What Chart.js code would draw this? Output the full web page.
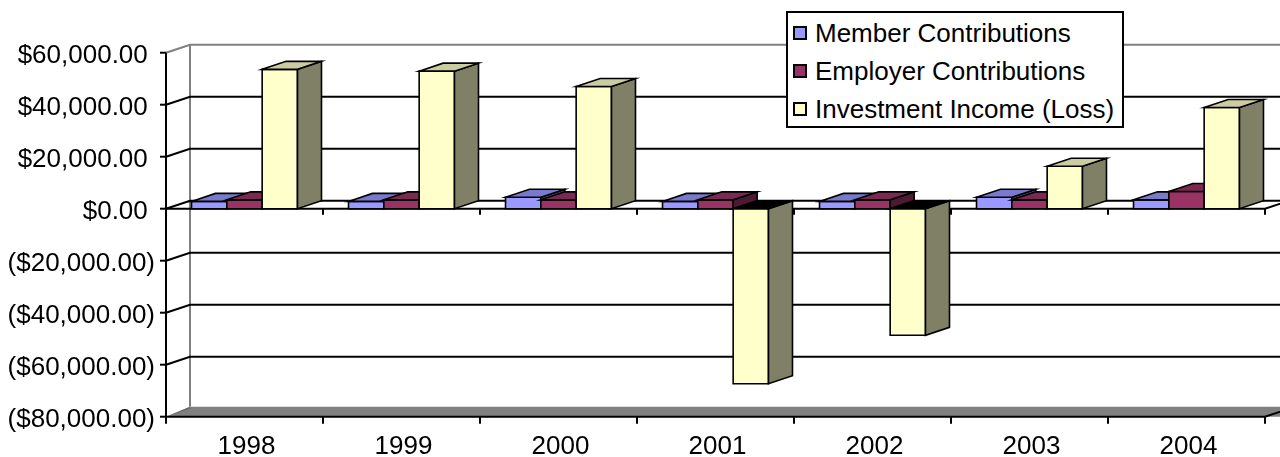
<!DOCTYPE html>
<html><head><meta charset="utf-8">
<script src="https://cdn.jsdelivr.net/npm/chart.js@4.4.1/dist/chart.umd.min.js"></script>
<style>
html,body{margin:0;padding:0;background:#fff;}
#wrap{position:relative;width:1280px;height:457px;overflow:hidden;}
#legend{position:absolute;left:786px;top:11px;width:334px;height:113px;border:2px solid #000;background:#fff;
  font-family:"Liberation Sans",Arial,sans-serif;font-size:26px;color:#000;box-sizing:content-box;}
.row{display:flex;align-items:center;height:38px;white-space:nowrap;}
.row:first-child{margin-top:1px;}
.mk{width:10px;height:10px;border:2px solid #000;margin-left:5px;margin-right:8px;flex:none;}
</style></head>
<body>
<div id="wrap"><canvas id="chart" width="1280" height="457"></canvas><div id="legend"></div></div>
<script>
const categories = ['1998', '1999', '2000', '2001', '2002', '2003', '2004'];
const seriesNames = ['Member Contributions', 'Employer Contributions', 'Investment Income (Loss)'];
const memberContributions = [2800, 2800, 4400, 2800, 2800, 4400, 3400];
const employerContributions = [3400, 3400, 3400, 3400, 3400, 3400, 6600];
const investmentIncome = [53600, 52900, 47000, -67300, -48700, 16300, 38900];
const yMin = -80000, yMax = 60000, yStep = 20000;

const seriesColors = ['#9999FF', '#993366', '#FFFFCC'];
const DX = 24, DY = -8;

function shade(hex, f) {
  const n = parseInt(hex.slice(1), 16);
  const r = Math.round(((n >> 16) & 255) * f), g = Math.round(((n >> 8) & 255) * f), b = Math.round((n & 255) * f);
  return 'rgb(' + r + ',' + g + ',' + b + ')';
}
function fmtMoney(v) {
  const s = Math.abs(v).toLocaleString('en-US', {minimumFractionDigits: 2, maximumFractionDigits: 2});
  return v < 0 ? '($' + s + ')' : '$' + s + ' ';
}

function poly(ctx, pts, fill, stroke, lw) {
  ctx.beginPath();
  ctx.moveTo(pts[0][0], pts[0][1]);
  for (let i = 1; i < pts.length; i++) ctx.lineTo(pts[i][0], pts[i][1]);
  if (fill) { ctx.closePath(); ctx.fillStyle = fill; ctx.fill(); }
  if (stroke) { ctx.strokeStyle = stroke; ctx.lineWidth = lw || 2; ctx.stroke(); }
}

const threeD = {
  id: 'threeD',
  beforeDatasetsDraw(chart) {
    const {ctx, chartArea: a, scales: {x, y}} = chart;
    const W = chart.width;
    const n = categories.length;
    ctx.save();
    ctx.lineJoin = 'miter';
    const yb = a.bottom;
    // floor
    poly(ctx, [[a.left, yb], [a.left + DX, yb + DY - 2], [a.right + DX + 40, yb + DY - 2], [a.right + 40, yb]], '#808080');
    poly(ctx, [[a.left, yb], [a.left + DX, yb + DY - 2], [a.left + DX, yb + DY]], '#6a6a6a');
    // back wall left edge
    poly(ctx, [[a.left + DX, a.top + DY], [a.left + DX, yb + DY - 2]], null, '#808080', 2);
    // gridlines (side wall + back wall)
    for (let v = yMin + yStep; v <= yMax; v += yStep) {
      const py = y.getPixelForValue(v);
      poly(ctx, [[a.left, py], [a.left + DX, py + DY], [W, py + DY]], null, v === yMax ? '#808080' : '#000', 2);
    }
    // front value axis
    poly(ctx, [[a.left, a.top], [a.left, yb]], null, '#000', 2);
    for (let v = yMin; v <= yMax; v += yStep) {
      const py = y.getPixelForValue(v);
      poly(ctx, [[a.left - 6, py], [a.left, py]], null, '#000', 2);
    }
    // floor front edge (category axis)
    poly(ctx, [[a.left, yb], [a.right, yb], [a.right + DX, yb + DY]], null, '#000', 2);
    const y0 = y.getPixelForValue(0);
    poly(ctx, [[a.left, y0], [a.right, y0], [a.right + DX, y0 + DY]], null, '#000', 2);
    for (let k = 0; k <= n; k++) {
      const bx = x.getPixelForValue(k - 0.5);
      poly(ctx, [[bx, yb], [bx, yb + 7]], null, '#000', 2);
      if (k > 0) poly(ctx, [[bx, y0], [bx, y0 + 6]], null, '#000', 2);
    }
    ctx.restore();
  },
  afterDatasetsDraw(chart) {
    const ctx = chart.ctx;
    ctx.save();
    ctx.lineJoin = 'miter';
    const lw = 1.6;
    for (let i = 0; i < categories.length; i++) {
      chart.data.datasets.forEach((ds, d) => {
        const el = chart.getDatasetMeta(d).data[i];
        const p = el.getProps(['x', 'y', 'base', 'width'], true);
        const x1 = p.x - p.width / 2, x2 = p.x + p.width / 2;
        const top = Math.min(p.y, p.base), bot = Math.max(p.y, p.base);
        const neg = ds.data[i] < 0;
        const col = seriesColors[d];
        // front face
        poly(ctx, [[x1, top], [x2, top], [x2, bot], [x1, bot]], col, '#000', lw);
        // side face
        poly(ctx, [[x2, top], [x2 + DX, top + DY], [x2 + DX, bot + DY], [x2, bot]], shade(col, 0.5), '#000', lw);
        // top face
        poly(ctx, [[x1, top], [x1 + DX, top + DY], [x2 + DX, top + DY], [x2, top]], neg ? '#000' : shade(col, 0.8), '#000', lw);
      });
    }
    ctx.restore();
  }
};

Chart.defaults.font.family = '"Liberation Sans", Arial, sans-serif';
Chart.defaults.font.size = 26;
Chart.defaults.color = '#000';

const chart = new Chart(document.getElementById('chart'), {
  type: 'bar',
  data: {
    labels: categories,
    datasets: [
      {label: seriesNames[0], data: memberContributions, backgroundColor: seriesColors[0]},
      {label: seriesNames[1], data: employerContributions, backgroundColor: seriesColors[1]},
      {label: seriesNames[2], data: investmentIncome, backgroundColor: seriesColors[2]}
    ]
  },
  options: {
    responsive: false,
    animation: false,
    devicePixelRatio: 1,
    layout: {padding: {top: 52.7, right: 15, left: 0, bottom: 0}},
    datasets: {bar: {categoryPercentage: 0.675, barPercentage: 1, borderWidth: 0}},
    plugins: {legend: {display: false}, tooltip: {enabled: false}},
    scales: {
      x: {
        grid: {display: false, drawTicks: false},
        border: {display: false},
        ticks: {padding: 15, labelOffset: 2, maxRotation: 0, autoSkip: false},
        afterFit(s) { s.height = 40.3; }
      },
      y: {
        min: yMin, max: yMax,
        grid: {display: false, drawTicks: false},
        border: {display: false},
        ticks: {stepSize: yStep, padding: 11, labelOffset: 3, callback: v => fmtMoney(v)},
        afterFit(s) { s.width = 166; }
      }
    }
  },
  plugins: [threeD]
});

// HTML legend built from the datasets
const leg = document.getElementById('legend');
chart.data.datasets.forEach(ds => {
  const row = document.createElement('div');
  row.className = 'row';
  const mk = document.createElement('span');
  mk.className = 'mk';
  mk.style.background = ds.backgroundColor;
  const tx = document.createElement('span');
  tx.textContent = ds.label;
  row.appendChild(mk); row.appendChild(tx);
  leg.appendChild(row);
});
</script>
</body></html>
